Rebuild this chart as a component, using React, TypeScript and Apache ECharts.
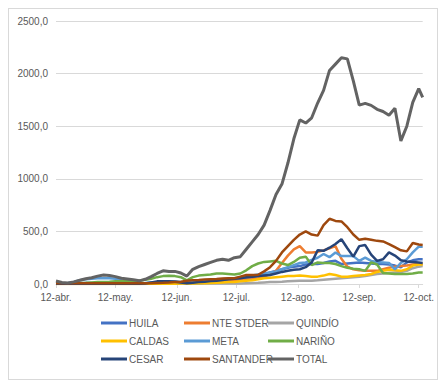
import React, { useEffect, useRef } from "react";
import * as echarts from "echarts";

// day offsets from 12-abr.
const DAYS = [
  0, 3, 6, 9, 12, 15, 18, 21, 24, 27,
  30, 33, 36, 39, 42, 45, 48, 51, 54, 57,
  60, 63, 66, 69, 72, 75, 78, 81, 84, 87,
  90, 93, 96, 99, 102, 105, 108, 111, 114, 117,
  120, 123, 126, 129, 132, 135, 138, 141, 144, 147,
  150, 153, 156, 159, 162, 165, 168, 171, 174, 177,
  180, 183, 185,
];

const TICK_DAYS = [0, 30, 61, 91, 122, 153, 183];
const TICK_LABELS = ["12-abr.", "12-may.", "12-jun.", "12-jul.", "12-ago.", "12-sep.", "12-oct."];

const HUILA = [
  2, 2, 3, 5, 8, 10, 10, 10, 10, 8,
  8, 5, 5, 5, 5, 8, 10, 12, 15, 15,
  15, 12, 10, 12, 15, 18, 20, 25, 30, 35,
  40, 50, 60, 65, 75, 90, 110, 125, 140, 155,
  165, 170, 185, 190, 190, 200, 215, 220, 190, 195,
  200, 205, 200, 195, 190, 190, 185, 175, 160, 205,
  225, 235, 235,
];
const NTE_STDER = [
  3, 3, 3, 3, 3, 3, 3, 3, 3, 3,
  3, 3, 3, 3, 3, 3, 5, 5, 5, 5,
  5, 5, 5, 8, 10, 12, 15, 18, 20, 25,
  30, 35, 40, 45, 55, 70, 95, 125, 200, 270,
  330, 360, 300, 300, 305, 320, 340, 360, 240, 165,
  140, 130, 125, 125, 125, 140, 155, 165, 170, 175,
  185, 190, 190,
];
const QUINDIO = [
  0, 0, 0, 0, 0, 0, 0, 0, 0, 0,
  0, 0, 0, 0, 0, 0, 2, 2, 2, 2,
  2, 2, 3, 3, 3, 4, 5, 5, 5, 5,
  5, 5, 8, 10, 12, 15, 18, 20, 22, 25,
  28, 30, 30, 32, 35, 40, 45, 50, 55, 60,
  65, 70, 75, 85, 95, 100, 105, 110, 115, 125,
  150, 165, 170,
];
const CALDAS = [
  1, 1, 1, 1, 1, 1, 1, 1, 1, 1,
  1, 1, 1, 1, 1, 2, 2, 2, 3, 3,
  3, 4, 5, 5, 6, 8, 10, 12, 15, 18,
  20, 25, 30, 35, 45, 55, 60, 65, 70, 75,
  75, 80, 75, 70, 70, 80, 95, 85, 70, 70,
  75, 80, 85, 95, 115, 125, 135, 130, 125, 140,
  175, 185, 185,
];
const META = [
  5, 5, 10, 20, 35, 45, 50, 55, 55, 55,
  50, 35, 15, 10, 8, 10, 15, 20, 25, 25,
  25, 20, 15, 20, 25, 30, 35, 40, 45, 50,
  55, 60, 70, 80, 90, 100, 110, 120, 140, 160,
  180, 200, 205, 230, 250, 285, 255, 300, 265, 265,
  265, 220, 250, 220, 210, 205, 200, 140, 200, 235,
  300, 355, 355,
];
const NARINO = [
  3, 3, 5, 8, 10, 12, 15, 18, 20, 22,
  25, 25, 28, 25, 30, 40, 50, 65, 75, 78,
  75, 65, 35, 65, 80, 85, 90, 100, 100, 95,
  90, 100, 130, 170, 195, 210, 215, 220, 195, 180,
  210, 250, 260, 180, 205, 200, 200, 190, 170, 155,
  145, 140, 125, 205, 185, 105, 100, 95, 95, 95,
  100, 110, 110,
];
const CESAR = [
  2, 2, 2, 2, 2, 2, 2, 2, 2, 2,
  2, 2, 2, 2, 2, 5, 15, 25, 25, 25,
  22, 15, 8, 12, 18, 22, 28, 32, 38, 45,
  50, 55, 65, 70, 75, 80, 85, 100, 115, 125,
  135, 140, 160, 205, 320, 315, 345, 380, 425, 340,
  260, 360, 370, 280, 220, 235, 300, 270, 225, 215,
  210, 205, 200,
];
const SANTANDER = [
  8, 8, 8, 8, 8, 8, 8, 8, 8, 8,
  8, 8, 8, 8, 8, 8, 8, 10, 12, 15,
  20, 22, 30, 35, 38, 42, 45, 48, 52, 55,
  55, 70, 85, 85, 88, 120, 160, 220, 300, 360,
  420, 470, 500, 470, 460, 560, 620, 600, 595, 540,
  470, 420, 430, 420, 410, 405, 380, 350, 320, 310,
  390, 375, 370,
];
const TOTAL = [
  28, 15, 10, 20, 35, 50, 60, 75, 85, 80,
  70, 55, 48, 40, 30, 45, 70, 100, 125, 118,
  120, 105, 75, 140, 165, 185, 205, 225, 235, 225,
  250, 260, 330, 400, 470, 560, 700, 850, 950, 1150,
  1380, 1560, 1530, 1580, 1720, 1840, 2030, 2090, 2150, 2140,
  1930, 1700, 1717, 1698, 1660, 1640, 1605, 1670, 1360, 1500,
  1726, 1858, 1774,
];

const SERIES = [
  { name: "HUILA", data: HUILA, color: "#4472C4" },
  { name: "NTE STDER", data: NTE_STDER, color: "#ED7D31" },
  { name: "QUINDÍO", data: QUINDIO, color: "#A5A5A5" },
  { name: "CALDAS", data: CALDAS, color: "#FFC000" },
  { name: "META", data: META, color: "#5B9BD5" },
  { name: "NARIÑO", data: NARINO, color: "#70AD47" },
  { name: "CESAR", data: CESAR, color: "#264478" },
  { name: "SANTANDER", data: SANTANDER, color: "#9E480E" },
  { name: "TOTAL", data: TOTAL, color: "#636363" },
];

const LEGEND_COLS = [
  ["HUILA", "CALDAS", "CESAR"],
  ["NTE STDER", "META", "SANTANDER"],
  ["QUINDÍO", "NARIÑO", "TOTAL"],
];
const LEGEND_LEFT = [92, 175, 259];

const FONT = "'Liberation Sans', Arial, sans-serif";

export default function App() {
  const ref = useRef<HTMLDivElement>(null);
  useEffect(() => {
    if (!ref.current) return;
    const chart = echarts.init(ref.current, null, { renderer: "svg" });
    chart.setOption({
      animation: false,
      textStyle: { fontFamily: FONT },
      grid: { left: 47, right: 14, top: 12, bottom: 95 },
      xAxis: {
        type: "value",
        min: 0,
        max: 185,
        splitLine: { show: false },
        axisLine: { show: true, lineStyle: { color: "#D9D9D9", width: 1 } },
        axisTick: {
          show: true,
          customValues: TICK_DAYS,
          length: 4,
          lineStyle: { color: "#D9D9D9" },
        },
        axisLabel: {
          customValues: TICK_DAYS,
          color: "#595959",
          fontSize: 10,
          margin: 8,
          fontFamily: FONT,
          formatter: (v: number) => {
            const i = TICK_DAYS.indexOf(Math.round(v));
            return i >= 0 ? TICK_LABELS[i] : "";
          },
        },
      },
      yAxis: {
        type: "value",
        min: 0,
        max: 2500,
        interval: 500,
        axisLine: { show: false },
        axisTick: { show: false },
        splitLine: { lineStyle: { color: "#D9D9D9", width: 1 } },
        axisLabel: {
          color: "#595959",
          fontSize: 10,
          margin: 8,
          fontFamily: FONT,
          formatter: (v: number) => v.toFixed(1).replace(".", ","),
        },
      },
      legend: LEGEND_COLS.map((col, i) => ({
        orient: "vertical",
        left: LEGEND_LEFT[i],
        top: 309,
        padding: 0,
        itemGap: 8,
        itemWidth: 26,
        itemHeight: 3,
        icon: "rect",
        data: col,
        textStyle: { color: "#595959", fontSize: 10, fontFamily: FONT, padding: [0, 0, 0, -3] },
        selectedMode: false,
      })),
      series: SERIES.map((s) => ({
        name: s.name,
        type: "line",
        data: DAYS.map((d, i) => [d, s.data[i]]),
        showSymbol: false,
        symbol: "none",
        color: s.color,
        lineStyle: { color: s.color, width: s.name === "TOTAL" ? 3 : 2.5 },
      })),
    });
    return () => chart.dispose();
  }, []);
  return (
    <div
      ref={ref}
      style={{
        width: 430,
        height: 372,
        border: "1px solid #D9D9D9",
        boxSizing: "border-box",
        background: "#fff",
      }}
    />
  );
}
